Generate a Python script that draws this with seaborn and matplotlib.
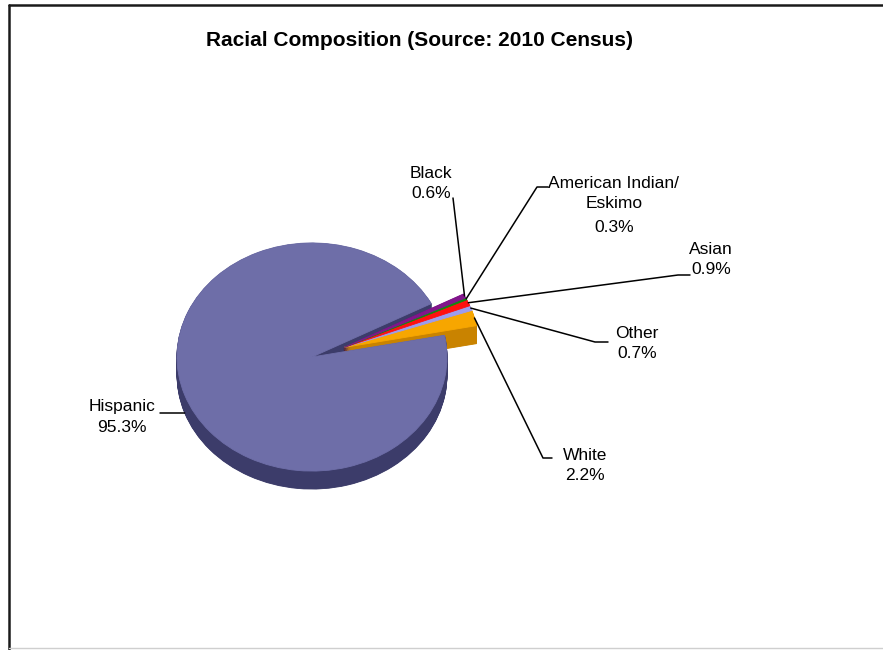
import numpy as np
import matplotlib
matplotlib.use("Agg")
import matplotlib.pyplot as plt
from matplotlib.lines import Line2D
import seaborn as sns

# Data
categories = ["White", "Other", "Asian", "American Indian/\nEskimo", "Black", "Hispanic"]
shares = [2.2, 0.7, 0.9, 0.3, 0.6, 95.3]
top_colors = ["#F7A600", "#9C9CEE", "#FF1010", "#108A10", "#82168C", "#6E6EA8"]
side_colors = ["#C98300", "#7070B8", "#B00000", "#006000", "#55005F", "#3C3C6A"]
title = "Racial Composition (Source: 2010 Census)"

# Geometry (pixels)
W, H = 883, 650
TILT = 0.845          # vertical squash of the tilted disc
CX, CY = 312, 357     # centre of the top face
R = 135
DEPTH = 18
START = 11
EXPLODE = 34

# Label layout: x centre, y of each text line, leader start and elbow
layout = {
    "White": (585, [455, 475], (552, 458), (543, 458)),
    "Other": (637, [334, 354], (608, 342), (595, 342)),
    "Asian": (711, [250, 270], (690, 275), (678, 275)),
    "American Indian/\nEskimo": (614, [183, 203, 227], (548, 187), (537, 187)),
    "Black": (431, [174, 193], (453, 198), (453, 198)),
    "Hispanic": (122, [407, 428], (160, 413), (172, 413)),
}

sns.set_theme(style="white")
plt.rcParams["font.family"] = ["Liberation Sans", "DejaVu Sans"]

fig = plt.figure(figsize=(W / 100, H / 100), dpi=100)
fig.patch.set_facecolor("white")
ax = fig.add_axes([0, 0, 1, 1])


def to_data(px, py):
    return px, (H - py) / TILT


cx, cy = to_data(CX, CY)
depth = DEPTH / TILT

fracs = np.array(shares) / np.sum(shares)
edges = START + 360 * np.concatenate([[0], np.cumsum(fracs)])
mids = (edges[:-1] + edges[1:]) / 2
main = [c == "Hispanic" for c in categories]
grp_mid = np.deg2rad((edges[0] + edges[len(shares) - 1]) / 2)
ox, oy = EXPLODE * np.cos(grp_mid), EXPLODE * np.sin(grp_mid)


def draw_layer(colors, dz):
    wedges, _ = ax.pie(shares, colors=colors, startangle=START, radius=R,
                       center=(cx, cy - dz), counterclock=True)
    for w, is_main in zip(wedges, main):
        w.set_edgecolor(w.get_facecolor())
        w.set_linewidth(0.6)
        if not is_main:
            w.set_center((cx + ox, cy - dz + oy))
    return wedges


# side walls, bottom up
for dz in np.linspace(depth, 0.5, 30):
    draw_layer(side_colors, dz)
# top faces
draw_layer(top_colors, 0)

ax.set_aspect("auto")
ax.set_xlim(0, W)
ax.set_ylim(0, H / TILT)
ax.axis("off")

# labels with leader lines
for cat, val, ang, is_main in zip(categories, shares, mids, main):
    x0, ys, start, elbow = layout[cat]
    lines = cat.split("\n") + [f"{val:.1f}%"]
    for txt, y in zip(lines, ys):
        ax.text(*to_data(x0, y), txt, ha="center", va="center",
                fontsize=12.5, color="black")
    a = np.deg2rad(ang)
    axp = cx + R * np.cos(a)
    ayp = cy + R * np.sin(a)
    if is_main:
        ayp -= depth
    else:
        axp += ox
        ayp += oy
    sx, sy = to_data(*start)
    ex, ey = to_data(*elbow)
    ax.add_line(Line2D([sx, ex, axp], [sy, ey, ayp], color="black", lw=1.1,
                       solid_joinstyle="round"))

fig.text(420 / W, 1 - 40 / H, title, ha="center", va="center",
         fontsize=15, fontweight="bold", color="black")

# frame
fig.add_artist(Line2D([9 / W, 9 / W], [0, 1 - 5 / H], transform=fig.transFigure,
                      color="#1a1a1a", lw=1.8))
fig.add_artist(Line2D([9 / W, 1], [1 - 5 / H, 1 - 5 / H], transform=fig.transFigure,
                      color="#1a1a1a", lw=1.8))
fig.add_artist(Line2D([9 / W, 1], [2 / H, 2 / H], transform=fig.transFigure,
                      color="#cfcfcf", lw=1.0))

fig.savefig("out.png", dpi=100, facecolor="white")
